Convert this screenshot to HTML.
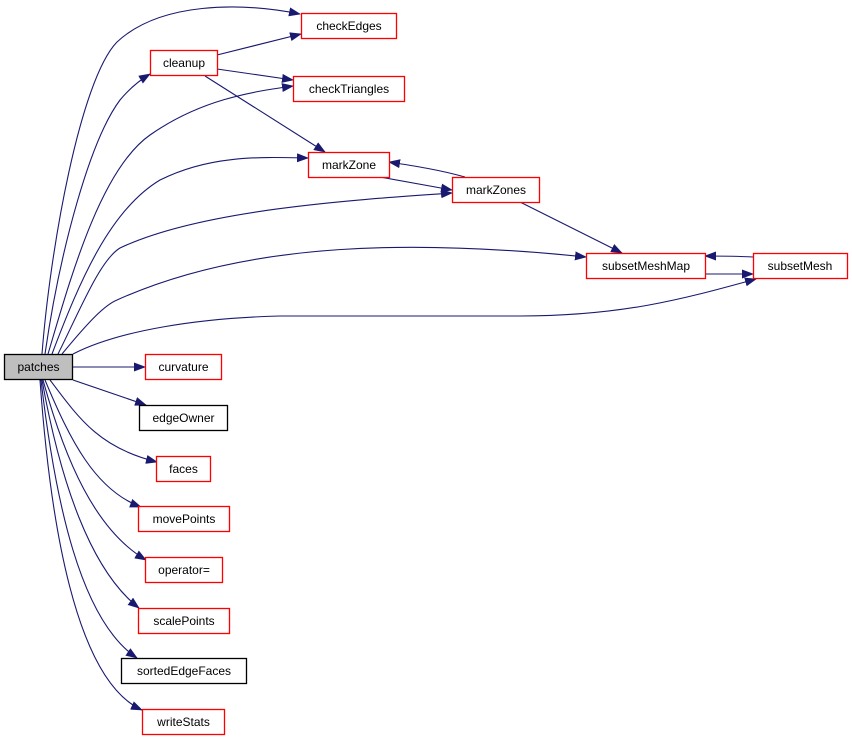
<!DOCTYPE html>
<html><head><meta charset="utf-8"><style>
html,body{margin:0;padding:0;background:#fff;}
svg{display:block;}
text{font-family:"Liberation Sans",sans-serif;font-size:12px;fill:#000;}
</style></head><body>
<svg width="852" height="740" viewBox="0 0 852 740" xmlns="http://www.w3.org/2000/svg">
<defs>
<marker id="a" markerWidth="12" markerHeight="9" refX="11" refY="4.5" orient="auto" markerUnits="userSpaceOnUse">
<path d="M0,0 L12,4.5 L0,9 Z" fill="#191970"/>
</marker>
</defs>
<g fill="none" stroke="#191970" stroke-width="1.1" marker-end="url(#a)">
<path d="M42,354 C50,250 80,80 117,42 C160,2 240,2 300,14"/>
<path d="M45,354 C60,250 90,140 120,100 C130,88 140,80 150,74"/>
<path d="M48,354 C70,280 100,170 150,135 C200,100 250,92 293,86"/>
<path d="M52,354 C80,280 110,210 160,180 C210,155 260,157 308,158"/>
<path d="M58,354 C80,310 100,260 120,248 C200,210 350,200 452,193"/>
<path d="M62,354 C90,320 105,305 117,300 C250,240 420,240 586,257"/>
<path d="M73,354 C120,330 200,318 280,316 L520,316 C620,316 680,300 756,279"/>
<path d="M73,367 L145,367"/>
<path d="M73,380 L146,405"/>
<path d="M50,380 C80,420 100,448 157,462"/>
<path d="M45,380 C70,440 95,490 141,507"/>
<path d="M43,380 C65,460 95,530 146,560"/>
<path d="M42,380 C60,480 90,570 139,608"/>
<path d="M41,380 C55,500 80,620 137,658"/>
<path d="M40,380 C50,520 75,680 142,710"/>
<path d="M217,55 L301,34"/>
<path d="M217,69 L293,80"/>
<path d="M205,76 L325,152"/>
<path d="M465,177 C440,170 415,166 389,162"/>
<path d="M380,177 L452,190"/>
<path d="M520,202 L622,253"/>
<path d="M753,257 C735,256 720,256 705,256"/>
<path d="M705,274 L753,274"/>
</g>
<g stroke-width="1.3">
<rect x="4.5" y="354.5" width="68" height="25" fill="#bfbfbf" stroke="#000"/>
<rect x="301.5" y="13.5" width="95" height="25" fill="#fff" stroke="#f00"/>
<rect x="150.5" y="50.5" width="67" height="25" fill="#fff" stroke="#f00"/>
<rect x="293.5" y="76.5" width="111" height="25" fill="#fff" stroke="#f00"/>
<rect x="308.5" y="152.5" width="81" height="25" fill="#fff" stroke="#f00"/>
<rect x="452.5" y="177.5" width="87" height="25" fill="#fff" stroke="#f00"/>
<rect x="586.5" y="253.5" width="119" height="25" fill="#fff" stroke="#f00"/>
<rect x="753.5" y="253.5" width="94" height="25" fill="#fff" stroke="#f00"/>
<rect x="145.5" y="354.5" width="76" height="25" fill="#fff" stroke="#f00"/>
<rect x="139.5" y="405.5" width="88" height="25" fill="#fff" stroke="#000"/>
<rect x="156.5" y="456.5" width="54" height="25" fill="#fff" stroke="#f00"/>
<rect x="138.5" y="506.5" width="91" height="25" fill="#fff" stroke="#f00"/>
<rect x="145.5" y="557.5" width="77" height="25" fill="#fff" stroke="#f00"/>
<rect x="138.5" y="608.5" width="91" height="25" fill="#fff" stroke="#f00"/>
<rect x="121.5" y="658.5" width="125" height="25" fill="#fff" stroke="#000"/>
<rect x="142.5" y="709.5" width="82" height="25" fill="#fff" stroke="#f00"/>
</g>
<g text-anchor="middle">
<text x="38.5" y="371">patches</text>
<text x="349" y="30">checkEdges</text>
<text x="184" y="67">cleanup</text>
<text x="349" y="93">checkTriangles</text>
<text x="349" y="169">markZone</text>
<text x="496" y="194">markZones</text>
<text x="646" y="270">subsetMeshMap</text>
<text x="800" y="270">subsetMesh</text>
<text x="183.5" y="371">curvature</text>
<text x="183.5" y="422">edgeOwner</text>
<text x="183.5" y="473">faces</text>
<text x="184" y="523">movePoints</text>
<text x="184" y="574">operator=</text>
<text x="184" y="625">scalePoints</text>
<text x="184" y="675">sortedEdgeFaces</text>
<text x="183.5" y="726">writeStats</text>
</g>
</svg>
</body></html>
